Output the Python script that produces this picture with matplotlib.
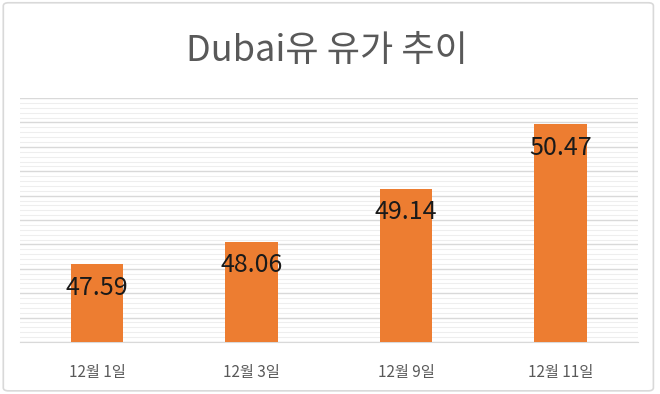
import matplotlib
matplotlib.use('Agg')
import matplotlib.pyplot as plt
from matplotlib.patches import FancyBboxPatch
from matplotlib.ticker import MultipleLocator

plt.rcParams['font.family'] = ['Noto Sans CJK KR', 'DejaVu Sans']

dates = ['12월 1일', '12월 3일', '12월 9일', '12월 11일']
prices = [47.59, 48.06, 49.14, 50.47]
title = 'Dubai유 유가 추이'

fig = plt.figure(figsize=(6.6, 3.94), dpi=100)
ax = fig.add_axes([0.0303, 0.132, 0.936, 0.619])

x = range(len(dates))
bars = ax.bar(x, prices, width=0.34, color='#ED7D31', zorder=3)

ax.set_ylim(46, 51)
ax.set_xlim(-0.5, len(dates) - 0.5)
ax.yaxis.set_major_locator(MultipleLocator(0.5))
ax.yaxis.set_minor_locator(MultipleLocator(0.1))
ax.grid(which='major', axis='y', color='#d9d9d9', lw=1.0, zorder=0)
ax.grid(which='minor', axis='y', color='#eeeeee', lw=0.8, zorder=0)
ax.tick_params(axis='y', which='both', left=False, labelleft=False)
ax.tick_params(axis='x', length=0, pad=16, labelsize=11, labelcolor='#595959')
ax.set_xticks(list(x))
ax.set_xticklabels(dates)
for s in ['top', 'left', 'right']:
    ax.spines[s].set_visible(False)
ax.spines['bottom'].set_color('#d9d9d9')

for b, v in zip(bars, prices):
    ax.annotate(f'{v:.2f}', (b.get_x() + b.get_width() / 2, v),
                xytext=(0, -17), textcoords='offset points',
                ha='center', va='center', fontsize=18, color='#1a1a1a', zorder=4)

fig.text(0.495, 0.87, title, ha='center', va='center', fontsize=26,
         color='#595959', fontweight='light')

frame = FancyBboxPatch((0.005, 0.008), 0.985, 0.985, boxstyle='round,pad=0,rounding_size=0.008',
                       transform=fig.transFigure, fill=False, ec='#d9d9d9', lw=1.2)
fig.patches.append(frame)

fig.savefig('out.png', dpi=100)
